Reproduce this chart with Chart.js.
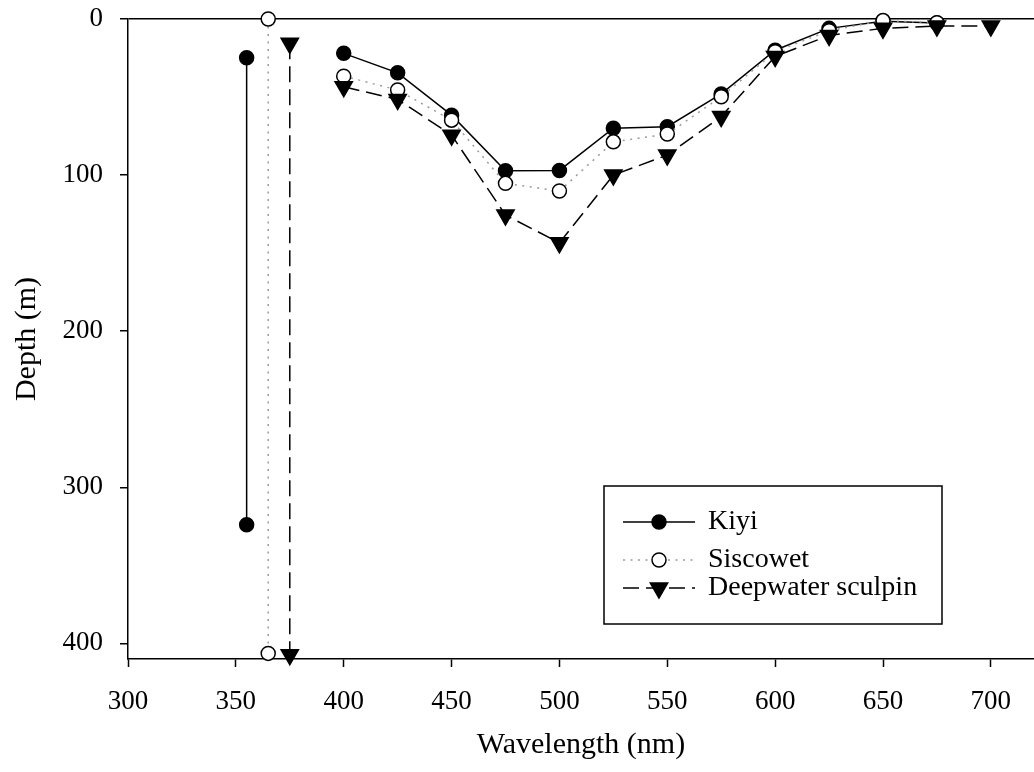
<!DOCTYPE html>
<html>
<head>
<meta charset="utf-8">
<script src="https://cdn.jsdelivr.net/npm/chart.js@4.4.1/dist/chart.umd.min.js"></script>
<style>
  html, body { margin: 0; padding: 0; background: #fff; overflow: hidden; }
  canvas { display: block; }
</style>
</head>
<body>
<canvas id="myChart" width="1034" height="772"></canvas>
<script>
// spectral sensitivity depth vs wavelength
const wavelengths = [400, 425, 450, 475, 500, 525, 550, 575, 600, 625, 650, 675, 700];
const kiyiDepth = [22, 34.5, 61.6, 97.2, 97, 70, 69, 48, 20, 6, 1.5, 2.5, null];
const siscowetDepth = [36.6, 45.5, 64.8, 105.3, 110.2, 78.7, 73.7, 49.8, 21, 7.5, 1, 2.4, null];
const sculpinDepth = [43.4, 51.5, 74.4, 125.6, 143.4, 100, 87.2, 62.5, 24, 10.5, 6, 4.5, 4.5];

// depth ranges (vertical bars at the left)
const rangeX = [355, 365, 375];
const rangeTop = [24.8, 0, 15.6];
const rangeBottom = [324, 406.4, 407.2];

const xTicks = [300, 350, 400, 450, 500, 550, 600, 650, 700];
const yTicks = [0, 100, 200, 300, 400];

const FONT = 'Liberation Serif, Times New Roman, serif';

const styles = [
  { label: 'Kiyi', borderColor: '#000', borderDash: [], pointStyle: 'circle', pointBackgroundColor: '#000', pointRadius: 7, rotation: 0 },
  { label: 'Siscowet', borderColor: '#9a9a9a', borderDash: [2, 5.5], pointStyle: 'circle', pointBackgroundColor: '#fff', pointRadius: 7, rotation: 0 },
  { label: 'Deepwater sculpin', borderColor: '#000', borderDash: [16, 7], pointStyle: 'triangle', pointBackgroundColor: '#000', pointRadius: 10, rotation: 180 }
];

function toPoints(ys) {
  return wavelengths.map((w, i) => ({ x: w, y: ys[i] }));
}

const series = [kiyiDepth, siscowetDepth, sculpinDepth];

const datasets = [];
series.forEach((ys, i) => {
  const s = styles[i];
  datasets.push({
    label: s.label,
    data: toPoints(ys),
    borderColor: s.borderColor,
    borderDash: s.borderDash,
    borderWidth: 1.5,
    pointStyle: s.pointStyle,
    pointRotation: s.rotation,
    pointRadius: s.pointRadius,
    pointBackgroundColor: s.pointBackgroundColor,
    pointBorderColor: '#000',
    pointBorderWidth: 1.5,
    spanGaps: false,
    clip: false,
    order: 10 - i
  });
});
rangeX.forEach((x, i) => {
  const s = styles[i];
  datasets.push({
    label: s.label + ' range',
    data: [{ x: x, y: rangeTop[i] }, { x: x, y: rangeBottom[i] }],
    borderColor: s.borderColor,
    borderDash: s.borderDash,
    borderWidth: 1.5,
    pointStyle: s.pointStyle,
    pointRotation: s.rotation,
    pointRadius: s.pointRadius,
    pointBackgroundColor: s.pointBackgroundColor,
    pointBorderColor: '#000',
    pointBorderWidth: 1.5,
    clip: false,
    order: 10 - i
  });
});

const legendBox = {
  id: 'legendBox',
  afterDraw(chart, args, opts) {
    const ctx = chart.ctx;
    ctx.save();
    ctx.lineWidth = 1.5;
    ctx.strokeStyle = '#000';
    ctx.setLineDash([]);
    ctx.strokeRect(opts.left, opts.top, opts.width, opts.height);
    ctx.font = opts.fontSize + 'px ' + FONT;
    ctx.textBaseline = 'middle';
    ctx.textAlign = 'left';
    opts.rows.forEach((y, i) => {
      const ds = chart.data.datasets[i];
      ctx.save();
      ctx.strokeStyle = ds.borderColor;
      ctx.lineWidth = 1.5;
      ctx.setLineDash(ds.borderDash);
      ctx.beginPath();
      ctx.moveTo(opts.lineStart, y);
      ctx.lineTo(opts.lineEnd, y);
      ctx.stroke();
      ctx.restore();
      ctx.save();
      ctx.setLineDash([]);
      ctx.fillStyle = ds.pointBackgroundColor;
      ctx.strokeStyle = '#000';
      ctx.lineWidth = 1.5;
      Chart.helpers.drawPoint(ctx, {
        pointStyle: ds.pointStyle,
        rotation: ds.pointRotation,
        radius: ds.pointRadius,
        borderWidth: 1.5
      }, (opts.lineStart + opts.lineEnd) / 2, y);
      ctx.restore();
      ctx.fillStyle = '#000';
      ctx.fillText(ds.label, opts.textX, y);
    });
    ctx.restore();
  }
};

// keep the plot area fixed: drop the label overhang padding the scales ask for
function noPad(s) {
  s.paddingTop = 0;
  s.paddingBottom = 0;
  s.paddingLeft = 0;
  s.paddingRight = 0;
}

const ctx = document.getElementById('myChart');
const myChart = new Chart(ctx, {
  type: 'line',
  data: { datasets: datasets },
  plugins: [legendBox],
  options: {
    responsive: false,
    animation: false,
    layout: { autoPadding: false, padding: { top: 19, left: 0, right: 0, bottom: 0 } },
    scales: {
      x: {
        type: 'linear',
        min: 300,
        max: 720,
        afterFit: s => { s.height = 113; noPad(s); },
        afterBuildTicks: s => { s.ticks = xTicks.map(v => ({ value: v })); },
        ticks: { color: '#000', font: { family: FONT, size: 27 }, padding: 19, includeBounds: false, maxRotation: 0, autoSkip: false },
        grid: { drawOnChartArea: false, tickLength: 8, tickColor: '#000', tickWidth: 1.5 },
        border: { display: true, color: '#000', width: 1.5 },
        title: { display: true, text: 'Wavelength (nm)', color: '#000', font: { family: FONT, size: 30 }, padding: { top: 0, bottom: 9 } }
      },
      y: {
        type: 'linear',
        reverse: true,
        min: 0,
        max: 410,
        afterFit: s => { s.width = 128; noPad(s); },
        afterBuildTicks: s => { s.ticks = yTicks.map(v => ({ value: v })); },
        ticks: { color: '#000', font: { family: FONT, size: 27 }, padding: 17, includeBounds: false },
        grid: {
          color: c => (c.tick && c.tick.value === 0 ? '#000' : 'rgba(0,0,0,0)'),
          lineWidth: 1.5,
          tickLength: 8,
          tickColor: '#000',
          tickWidth: 1.5
        },
        border: { display: true, color: '#000', width: 1.5 },
        title: { display: true, text: 'Depth (m)', color: '#000', font: { family: FONT, size: 30 }, padding: { top: 9, bottom: 0 } }
      }
    },
    plugins: {
      legend: { display: false },
      tooltip: { enabled: false },
      legendBox: {
        left: 604, top: 486, width: 338, height: 138,
        rows: [522, 560, 588],
        lineStart: 623, lineEnd: 695, textX: 708, fontSize: 28
      }
    }
  }
});
</script>
</body>
</html>
